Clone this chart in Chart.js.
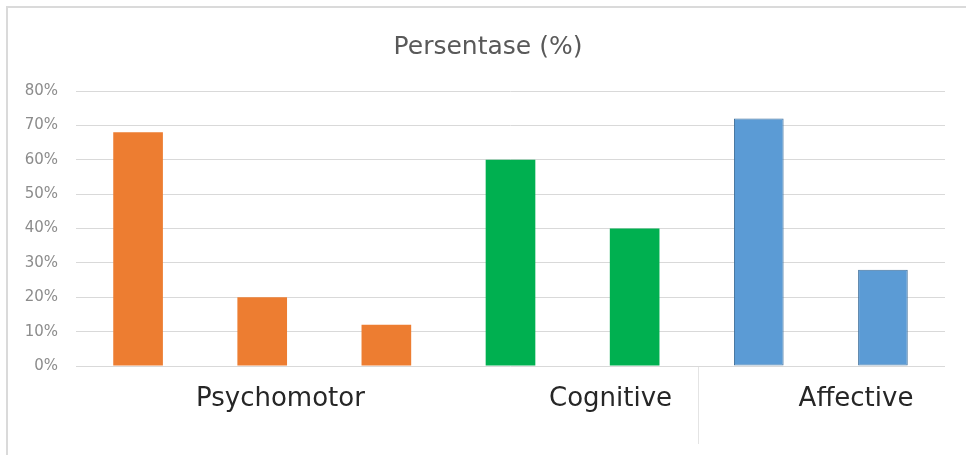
<!DOCTYPE html>
<html>
<head>
<meta charset="utf-8">
<script src="https://cdn.jsdelivr.net/npm/chart.js@4"></script>
<style>
    html, body { margin: 0; padding: 0; background: #fff; overflow: hidden; }
    #wrap { position: relative; width: 966px; height: 455px; }
    #frame {
        position: absolute; left: 6px; top: 6px; width: 1000px; height: 500px;
        border-left: 2px solid #dadada; border-top: 2px solid #dadada;
    }
    #chart { position: absolute; left: 0; top: 0; }
</style>
</head>
<body>
<div id="wrap">
    <div id="frame"></div>
    <canvas id="chart" width="966" height="455"></canvas>
</div>
<script>
// ===================================
// Persentase (%) - grouped bars
// ===================================

const categories = ['Psychomotor 1', 'Psychomotor 2', 'Psychomotor 3', 'Cognitive 1', 'Cognitive 2', 'Affective 1', 'Affective 2'];
const values = [68, 20, 12, 60, 40, 72, 28];
const barColors = ['#ED7D31', '#ED7D31', '#ED7D31', '#00B050', '#00B050', '#5B9BD5', '#5B9BD5'];
const barBorders = ['#ED7D31', '#ED7D31', '#ED7D31', '#00B050', '#00B050', '#41719C', '#41719C'];
const yTicks = [0, 10, 20, 30, 40, 50, 60, 70, 80];

const chartTitle = 'Persentase (%)';

// group captions under the bars (position in category units)
const groupLabels = ['Psychomotor', 'Cognitive', 'Affective'];
const groupPositions = [1.147, 3.806, 5.783];

const captionPlugin = {
    id: 'captions',
    afterDraw(chart) {
        const ctx = chart.ctx;
        const x = chart.scales.x;
        const area = chart.chartArea;
        ctx.save();

        // title, sits a bit right of the plot centre like the original
        ctx.font = '25px "DejaVu Sans"';
        ctx.fillStyle = '#595959';
        ctx.textAlign = 'center';
        ctx.textBaseline = 'alphabetic';
        ctx.fillText(chartTitle, 488, area.top - 37);

        // group names
        ctx.font = '26px "DejaVu Sans"';
        ctx.fillStyle = '#262626';
        groupLabels.forEach((label, i) => {
            ctx.fillText(label, x.getPixelForValue(groupPositions[i]), area.bottom + 40);
        });

        // faint text box edge next to "Affective"
        ctx.strokeStyle = '#e4e4e4';
        ctx.lineWidth = 1;
        ctx.beginPath();
        ctx.moveTo(698.5, area.bottom + 1);
        ctx.lineTo(698.5, area.bottom + 78);
        ctx.stroke();

        ctx.restore();
    }
};

const ctx = document.getElementById('chart').getContext('2d');

new Chart(ctx, {
    type: 'bar',
    data: {
        labels: categories,
        datasets: [{
            label: chartTitle,
            data: values,
            backgroundColor: barColors,
            borderColor: barBorders,
            borderWidth: [0, 0, 0, 0, 0, 1, 1],
            borderSkipped: false,
            barPercentage: 0.4,
            categoryPercentage: 1
        }]
    },
    options: {
        responsive: false,
        animation: false,
        layout: {
            padding: { left: 0, right: 21, top: 91, bottom: 89 }
        },
        plugins: {
            legend: { display: false },
            tooltip: { enabled: false },
            title: { display: false }
        },
        scales: {
            x: {
                display: false
            },
            y: {
                min: 0,
                max: 80,
                afterFit: (scale) => { scale.width = 76; },
                afterBuildTicks: (scale) => {
                    scale.ticks = yTicks.map(v => ({ value: v }));
                },
                border: { display: false },
                grid: {
                    color: '#d9d9d9',
                    lineWidth: 1,
                    drawTicks: false
                },
                ticks: {
                    padding: 18,
                    color: '#8c8c8c',
                    font: { family: 'DejaVu Sans', size: 15 },
                    callback: (v) => v + '%'
                }
            }
        }
    },
    plugins: [captionPlugin]
});
</script>
</body>
</html>
